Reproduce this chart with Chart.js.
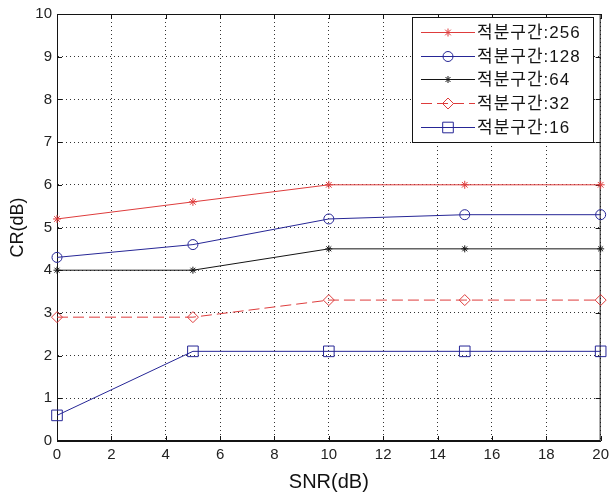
<!DOCTYPE html>
<html>
<head>
<meta charset="utf-8">
<script src="https://cdn.jsdelivr.net/npm/chart.js@4"></script>
<style>
  html, body { margin: 0; padding: 0; background: #fff; }
  #wrap { width: 614px; height: 494px; }
</style>
</head>
<body>
<div id="wrap"><canvas id="crchart" width="614" height="494"></canvas></div>
<script>
// SNR (dB) sample points
const snr = [0, 5, 10, 15, 20];
const seriesNames = ['적분구간:256', '적분구간:128', '적분구간:64', '적분구간:32', '적분구간:16'];
const cr256 = [5.2, 5.6, 6.0, 6.0, 6.0];
const cr128 = [4.3, 4.6, 5.2, 5.3, 5.3];
const cr64 = [4.0, 4.0, 4.5, 4.5, 4.5];
const cr32 = [2.9, 2.9, 3.3, 3.3, 3.3];
const cr16 = [0.6, 2.1, 2.1, 2.1, 2.1];
const xTicks = [0, 2, 4, 6, 8, 10, 12, 14, 16, 18, 20];
const yTicks = [0, 1, 2, 3, 4, 5, 6, 7, 8, 9, 10];

const RED = 'rgb(222,60,60)';
const BLUE = 'rgb(38,38,150)';
const BLACK = 'rgb(20,20,20)';

function pts(ys) {
  return snr.map((x, i) => ({ x: x, y: ys[i] }));
}

function mkSet(label, ys, color, style, radius, dash) {
  return {
    label: label,
    data: pts(ys),
    borderColor: color,
    backgroundColor: 'rgba(0,0,0,0)',
    borderWidth: 1,
    borderDash: dash || [],
    pointStyle: style,
    pointRadius: radius,
    pointHoverRadius: radius,
    pointBorderColor: color,
    pointBackgroundColor: 'rgba(0,0,0,0)',
    pointBorderWidth: 1,
    tension: 0,
    clip: false
  };
}

// box around the plot + inward ticks, like the original figure
const boxTicks = {
  id: 'boxTicks',
  beforeDatasetsDraw(chart) {
    const { ctx, chartArea: a, scales } = chart;
    ctx.save();
    ctx.strokeStyle = BLACK;
    ctx.lineWidth = 1;
    ctx.setLineDash([]);
    ctx.strokeRect(a.left + 0.5, a.top + 0.5, a.right - a.left - 1, a.bottom - a.top - 1);
    ctx.beginPath();
    xTicks.forEach(v => {
      const px = Math.round(scales.x.getPixelForValue(v)) + 0.5;
      ctx.moveTo(px, a.bottom); ctx.lineTo(px, a.bottom - 5);
      ctx.moveTo(px, a.top); ctx.lineTo(px, a.top + 5);
    });
    yTicks.forEach(v => {
      const py = Math.round(scales.y.getPixelForValue(v)) + 0.5;
      ctx.moveTo(a.left, py); ctx.lineTo(a.left + 5, py);
      ctx.moveTo(a.right, py); ctx.lineTo(a.right - 5, py);
    });
    ctx.stroke();
    ctx.restore();
  }
};

// legend with line sample + marker
const lineLegend = {
  id: 'lineLegend',
  afterDraw(chart) {
    const ctx = chart.ctx;
    const bx = 412, by = 17, bw = 181, bh = 125;
    ctx.save();
    ctx.fillStyle = '#fff';
    ctx.fillRect(bx, by, bw, bh);
    ctx.strokeStyle = BLACK;
    ctx.lineWidth = 1;
    ctx.setLineDash([]);
    ctx.strokeRect(bx + 0.5, by + 0.5, bw, bh);
    chart.data.datasets.forEach((ds, i) => {
      const y = Math.round(by + 15 + i * 23.7) + 0.5;
      ctx.strokeStyle = ds.borderColor;
      ctx.setLineDash(ds.borderDash);
      ctx.beginPath();
      ctx.moveTo(bx + 9, y);
      ctx.lineTo(bx + 63, y);
      ctx.stroke();
      ctx.setLineDash([]);
      ctx.fillStyle = 'rgba(0,0,0,0)';
      Chart.helpers.drawPoint(ctx, {
        pointStyle: ds.pointStyle,
        radius: ds.pointRadius,
        rotation: 0,
        borderWidth: 1
      }, bx + 36, y);
      ctx.fillStyle = BLACK;
      ctx.font = '17px "Liberation Sans", "Noto Sans CJK KR", sans-serif';
      ctx.letterSpacing = '1px';
      ctx.textBaseline = 'middle';
      ctx.textAlign = 'left';
      ctx.fillText(ds.label, bx + 65, y + 1);
    });
    ctx.restore();
  }
};

const ctx = document.getElementById('crchart').getContext('2d');

const crchart = new Chart(ctx, {
  type: 'line',
  data: {
    datasets: [
      mkSet(seriesNames[0], cr256, RED, 'star', 4),
      mkSet(seriesNames[1], cr128, BLUE, 'circle', 5),
      mkSet(seriesNames[2], cr64, BLACK, 'star', 3.5),
      mkSet(seriesNames[3], cr32, RED, 'rectRot', 5.5, [11, 5]),
      mkSet(seriesNames[4], cr16, BLUE, 'rect', 7.5)
    ]
  },
  options: {
    responsive: false,
    maintainAspectRatio: false,
    animation: false,
    layout: { padding: { left: 0, right: 8, top: 9, bottom: 0 } },
    plugins: {
      legend: { display: false },
      tooltip: { enabled: false }
    },
    scales: {
      x: {
        type: 'linear',
        min: 0,
        max: 20,
        afterFit: s => { s.height = 53; },
        afterBuildTicks: s => { s.ticks = xTicks.map(v => ({ value: v })); },
        grid: {
          color: '#333',
          drawTicks: false
        },
        border: { display: true, color: BLACK, dash: [1, 3] },
        ticks: {
          color: '#222',
          padding: 5,
          font: { family: '"Liberation Sans", Arial, sans-serif', size: 15 }
        },
        title: {
          display: true,
          text: 'SNR(dB)',
          color: '#111',
          padding: { top: 0, bottom: 0 },
          font: { family: '"Liberation Sans", Arial, sans-serif', size: 20 }
        }
      },
      y: {
        type: 'linear',
        min: 0,
        max: 10,
        afterFit: s => { s.width = 57; },
        afterBuildTicks: s => { s.ticks = yTicks.map(v => ({ value: v })); },
        grid: {
          color: '#333',
          drawTicks: false
        },
        border: { display: true, color: BLACK, dash: [1, 3] },
        ticks: {
          color: '#222',
          padding: 5,
          font: { family: '"Liberation Sans", Arial, sans-serif', size: 15 }
        },
        title: {
          display: true,
          text: 'CR(dB)',
          color: '#111',
          padding: { top: 7, bottom: 0 },
          font: { family: '"Liberation Sans", Arial, sans-serif', size: 18 }
        }
      }
    }
  },
  plugins: [boxTicks, lineLegend]
});
</script>
</body>
</html>
